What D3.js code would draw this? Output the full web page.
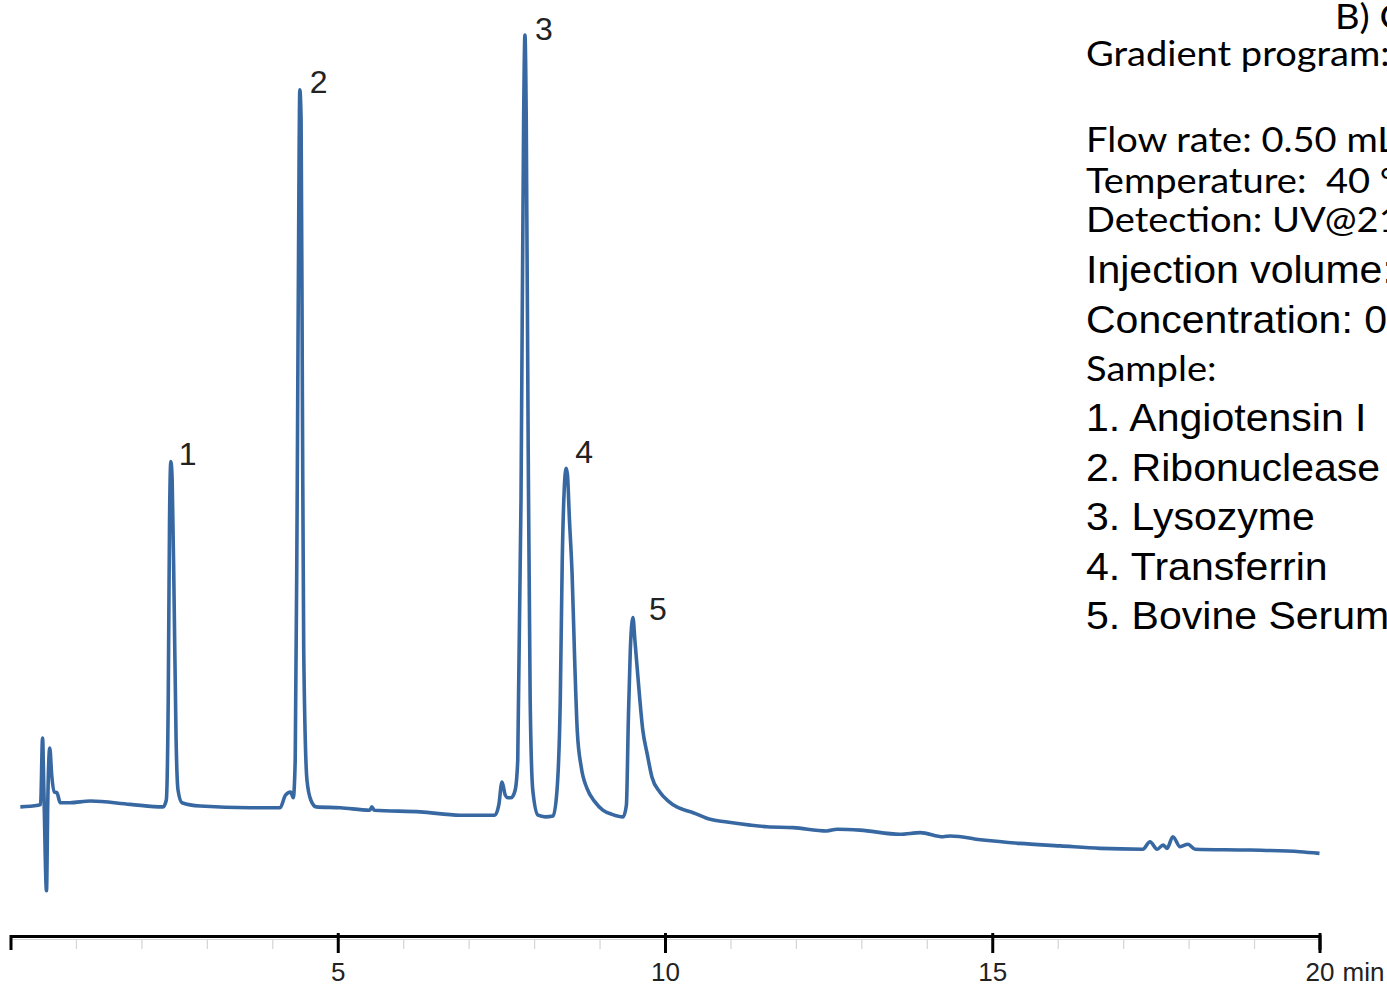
<!DOCTYPE html>
<html>
<head>
<meta charset="utf-8">
<script src="https://cdn.jsdelivr.net/npm/d3@7/dist/d3.min.js"></script>
<style>
  body { margin: 0; background: #fff; }
  svg { display: block; }
</style>
</head>
<body>
<div id="chart"></div>
<script>
// retention time (min) and detector signal (mAU)
var timeMin = [0.15, 0.42, 0.46, 0.49, 0.51, 0.55, 0.57, 0.60, 0.63, 0.67, 0.71, 0.76, 0.91, 1.22, 1.83,
  2.33, 2.38, 2.41, 2.43, 2.45, 2.47, 2.50, 2.53, 2.56, 2.62, 2.90, 3.66,
  4.12, 4.20, 4.28, 4.32, 4.35, 4.38, 4.41, 4.42, 4.44, 4.46, 4.48, 4.53, 4.59, 4.67, 5.04, 5.49, 5.52, 5.56, 6.26, 6.87,
  7.40, 7.46, 7.51, 7.56, 7.60, 7.65, 7.71, 7.75, 7.80, 7.84, 7.86, 7.88, 7.91, 7.94, 7.98, 8.06, 8.17, 8.29,
  8.35, 8.40, 8.43, 8.46, 8.49, 8.51, 8.54, 8.58, 8.62, 8.66, 8.72, 8.81, 8.93, 9.05, 9.19, 9.36,
  9.41, 9.44, 9.47, 9.51, 9.54, 9.59, 9.66, 9.73, 9.80, 9.92, 10.05, 10.18, 10.27, 10.43, 10.69, 10.92,
  11.30, 11.56, 11.96, 12.47, 12.63, 12.98, 13.59, 13.90, 14.25, 14.36, 14.86, 15.42, 16.04, 16.65,
  17.30, 17.41, 17.52, 17.61, 17.67, 17.76, 17.87, 17.99, 18.10, 18.94, 19.70, 20.00];

var signal = [6.4, 6.6, 6.7, 14.7, 8.4, -3.7, 7.2, 13.5, 10.2, 8.2, 8.1, 6.9, 6.9, 7.1, 6.7,
  6.4, 7.2, 19.3, 41.0, 48.0, 45.8, 31.3, 14.5, 8.4, 6.9, 6.5, 6.3,
  6.3, 7.8, 8.2, 7.5, 12.0, 43.4, 85.5, 92.8, 89.2, 55.4, 25.3, 9.6, 7.2, 6.4, 6.3, 6.0, 6.4, 6.0, 5.8, 5.4,
  5.4, 6.6, 9.4, 7.8, 7.5, 7.5, 8.4, 12.0, 43.4, 89.2, 99.4, 89.2, 49.4, 19.3, 8.4, 5.4, 5.2, 5.3,
  8.4, 19.3, 36.1, 44.6, 47.2, 46.4, 41.0, 34.6, 24.1, 15.5, 11.2, 8.6, 7.0, 6.0, 5.5, 5.2,
  6.6, 16.9, 25.3, 29.2, 26.5, 21.7, 15.7, 12.7, 10.0, 8.2, 7.1, 6.4, 6.1, 5.7, 4.9, 4.6,
  4.2, 4.0, 3.9, 3.5, 3.7, 3.6, 3.1, 3.3, 2.8, 2.9, 2.4, 2.0, 1.7, 1.4,
  1.3, 2.2, 1.3, 1.8, 1.4, 2.8, 1.6, 1.9, 1.3, 1.2, 1.0, 0.8];

var peakIds = ["1", "2", "3", "4", "5"];
var peakTimes = [2.45, 4.42, 7.86, 8.49, 9.51];
var peakHeights = [48.0, 92.8, 99.4, 47.2, 29.2];

var majorTicks = [5, 10, 15, 20];
var minorTicks = [1, 2, 3, 4, 6, 7, 8, 9, 11, 12, 13, 14, 16, 17, 18, 19];
var axisUnit = "min";

var infoLines = [
  "B) Chromatogram",
  "Gradient program: see table",
  "Flow rate: 0.50 mL/min",
  "Temperature:  40 °C",
  "Detection: UV@214 nm",
  "Injection volume: 2 µL",
  "Concentration: 0.5 mg/mL",
  "Sample:",
  "1. Angiotensin I",
  "2. Ribonuclease A",
  "3. Lysozyme",
  "4. Transferrin",
  "5. Bovine Serum Albumin"
];

var width = 1387,
    height = 984;

var svg = d3.select("#chart")
  .append("svg")
  .attr("width", width)
  .attr("height", height);

svg.append("rect").attr("width", width).attr("height", height).attr("fill", "#fff");

var x = d3.scaleLinear().domain([0, 20]).range([10.5, 1319.5]);
var y = d3.scaleLinear().domain([0, 100]).range([860, 30]);

/* minor ticks + faint line under the axis */
var minor = svg.append("g")
  .attr("transform", "translate(0,939)")
  .call(d3.axisBottom(x).tickValues(minorTicks).tickSize(10).tickSizeOuter(0).tickFormat(""));
minor.selectAll("path, line").attr("stroke", "#d4d4d4").attr("stroke-width", 1.2);

/* main axis */
var axis = svg.append("g")
  .attr("transform", "translate(0,936)")
  .call(d3.axisBottom(x).tickValues(majorTicks).tickSize(17).tickSizeOuter(14).tickFormat(d3.format("d")));
axis.select(".domain").attr("stroke", "#000").attr("stroke-width", 3);
axis.selectAll(".tick line").attr("stroke", "#000").attr("stroke-width", 3).attr("y1", -3);
axis.selectAll(".tick text")
  .attr("y", 45).attr("dy", 0)
  .attr("fill", "#222")
  .style("font-family", "'Liberation Sans', Arial, sans-serif")
  .style("font-size", "26px");

svg.append("text")
  .attr("x", x(20) + 23)
  .attr("y", 981)
  .attr("fill", "#222")
  .style("font-family", "'Liberation Sans', Arial, sans-serif")
  .style("font-size", "26px")
  .text(axisUnit);

/* chromatogram trace */
var trace = timeMin.map(function(t, i) { return { t: t, s: signal[i] }; });

var line = d3.line()
  .x(function(d) { return x(d.t); })
  .y(function(d) { return y(d.s); })
  .curve(d3.curveMonotoneX);

svg.append("path")
  .datum(trace)
  .attr("d", line)
  .attr("fill", "none")
  .attr("stroke", "#3868a2")
  .attr("stroke-width", 3.6)
  .attr("stroke-linejoin", "round");

// label offsets from the peak apex
var nudge = [[8, 3], [10, 3], [10, 5], [9, -5], [16, 2]];

svg.append("g")
  .selectAll("text")
  .data(peakIds)
  .enter().append("text")
    .attr("x", function(d, i) { return x(peakTimes[i]) + nudge[i][0]; })
    .attr("y", function(d, i) { return y(peakHeights[i]) + nudge[i][1]; })
    .attr("fill", "#222")
    .style("font-family", "'Liberation Sans', Arial, sans-serif")
    .style("font-size", "32px")
    .text(function(d) { return d; });

/* conditions text on the right */
var lineY = [29, 66, 152, 193, 232, 283, 333, 381, 431, 481, 530, 580, 629];
var lineX = [1335, 1086, 1086, 1086, 1086, 1086, 1086, 1086, 1086, 1086, 1086, 1086, 1086];
var calibri = [true, true, true, true, true, false, false, true, false, false, false, false, false];

svg.append("g")
  .selectAll("text")
  .data(infoLines)
  .enter().append("text")
    .attr("transform", function(d, i) {
      return "translate(" + lineX[i] + "," + lineY[i] + ") scale(" + (calibri[i] ? 1.12 : 1.08) + ",1)";
    })
    .attr("fill", "#000")
    .style("white-space", "pre")
    .style("font-family", function(d, i) { return calibri[i] ? "Lato, 'Open Sans', sans-serif" : "'Liberation Sans', Arial, sans-serif"; })
    .style("font-size", function(d, i) { return calibri[i] ? "34px" : "38px"; })
    .text(function(d) { return d; });
</script>
</body>
</html>
